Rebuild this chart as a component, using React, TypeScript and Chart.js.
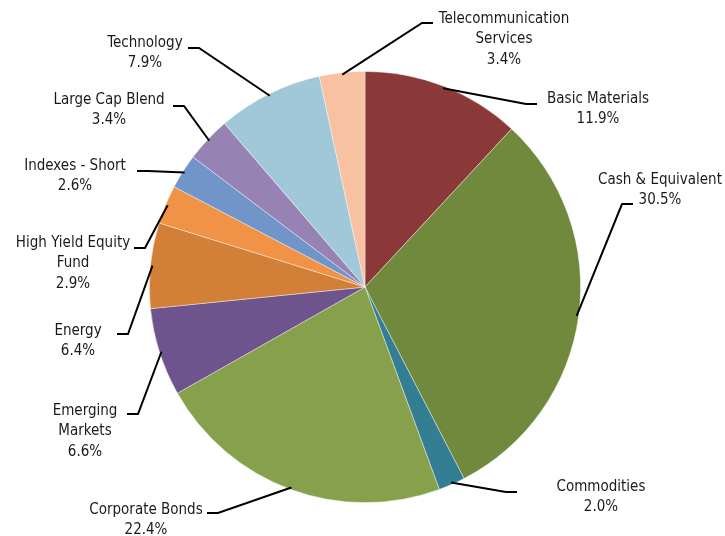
import React, { useEffect, useRef } from "react";
import { Chart, registerables } from "chart.js";

Chart.register(...registerables);

const categories = [
  "Basic Materials",
  "Cash & Equivalent",
  "Commodities",
  "Corporate Bonds",
  "Emerging Markets",
  "Energy",
  "High Yield Equity Fund",
  "Indexes - Short",
  "Large Cap Blend",
  "Technology",
  "Telecommunication Services",
];

const shares = [11.9, 30.5, 2.0, 22.4, 6.6, 6.4, 2.9, 2.6, 3.4, 7.9, 3.4];

const colors = [
  "#8B3838",
  "#71893D",
  "#347E93",
  "#86A04C",
  "#6E548C",
  "#D27F38",
  "#F09346",
  "#7195C9",
  "#9783B3",
  "#A1C8D9",
  "#F8C1A1",
];

// label layout, offsets relative to pie centre: text centre (tx, ty), stub outer end (sx, sy), side
const labelLayout = [
  { tx: 233, ty: -188, sx: 172, sy: -183, side: 1, wrap: 200 },
  { tx: 295, ty: -107, sx: 268, sy: -83, side: 1, wrap: 200 },
  { tx: 236, ty: 200, sx: 152, sy: 205, side: 1, wrap: 200 },
  { tx: -219, ty: 223, sx: -158, sy: 226, side: -1, wrap: 200 },
  { tx: -280, ty: 124, sx: -238, sy: 127, side: -1, wrap: 75 },
  { tx: -287, ty: 44, sx: -248, sy: 47, side: -1, wrap: 200 },
  { tx: -292, ty: -44, sx: -231, sy: -39, side: -1, wrap: 125 },
  { tx: -290, ty: -121, sx: -228, sy: -116, side: -1, wrap: 200 },
  { tx: -256, ty: -187, sx: -192, sy: -181, side: -1, wrap: 200 },
  { tx: -220, ty: -244, sx: -177, sy: -239, side: -1, wrap: 200 },
  { tx: 139, ty: -268, sx: 68, sy: -264, side: 1, wrap: 150 },
];

const FONT = '15px "DejaVu Sans Condensed", "DejaVu Sans", sans-serif';

function wrapText(ctx: CanvasRenderingContext2D, text: string, maxW: number): string[] {
  const words = text.split(" ");
  const lines: string[] = [];
  let cur = "";
  for (const w of words) {
    const test = cur ? cur + " " + w : w;
    if (cur && ctx.measureText(test).width > maxW) {
      lines.push(cur);
      cur = w;
    } else {
      cur = test;
    }
  }
  if (cur) lines.push(cur);
  return lines;
}

const outsideLabels = {
  id: "outsideLabels",
  afterDatasetsDraw(chart: any) {
    const ctx = chart.ctx as CanvasRenderingContext2D;
    const meta = chart.getDatasetMeta(0);
    ctx.save();
    ctx.font = FONT;
    ctx.fillStyle = "#1a1a1a";
    ctx.strokeStyle = "#000";
    ctx.lineWidth = 2;
    ctx.textAlign = "center";
    ctx.textBaseline = "middle";
    meta.data.forEach((arc: any, i: number) => {
      const p = arc.getProps(["x", "y", "startAngle", "endAngle", "outerRadius"], true);
      const mid = (p.startAngle + p.endAngle) / 2;
      const r = p.outerRadius - 2;
      const x0 = p.x + Math.cos(mid) * r;
      const y0 = p.y + Math.sin(mid) * r;
      const L = labelLayout[i];
      const sxo = p.x + L.sx;
      const syo = p.y + L.sy;
      const sxi = sxo - L.side * 11;
      ctx.beginPath();
      ctx.moveTo(x0, y0);
      ctx.lineTo(sxi, syo);
      ctx.lineTo(sxo, syo);
      ctx.stroke();
      const lines = wrapText(ctx, categories[i], L.wrap);
      lines.push(shares[i].toFixed(1) + "%");
      lines.forEach((ln, k) => {
        ctx.fillText(ln, p.x + L.tx, p.y + L.ty + k * 20.5);
      });
    });
    ctx.restore();
  },
};

export default function App() {
  const ref = useRef<HTMLCanvasElement | null>(null);
  useEffect(() => {
    document.body.style.margin = "0";
    const canvas = ref.current;
    if (!canvas) return;
    const chart = new Chart(canvas, {
      type: "pie",
      data: {
        labels: categories,
        datasets: [
          {
            data: shares,
            backgroundColor: colors,
            borderColor: "rgba(255,255,255,0.5)",
            borderWidth: 0.8,
          },
        ],
      },
      options: {
        responsive: false,
        animation: false,
        layout: { padding: { left: 149, right: 144, top: 71, bottom: 33 } },
        plugins: {
          legend: { display: false },
          tooltip: { enabled: false },
        },
      },
      plugins: [outsideLabels],
    });
    return () => chart.destroy();
  }, []);
  return (
    <div style={{ width: 725, height: 536 }}>
      <canvas ref={ref} width={725} height={536} style={{ display: "block" }} />
    </div>
  );
}
